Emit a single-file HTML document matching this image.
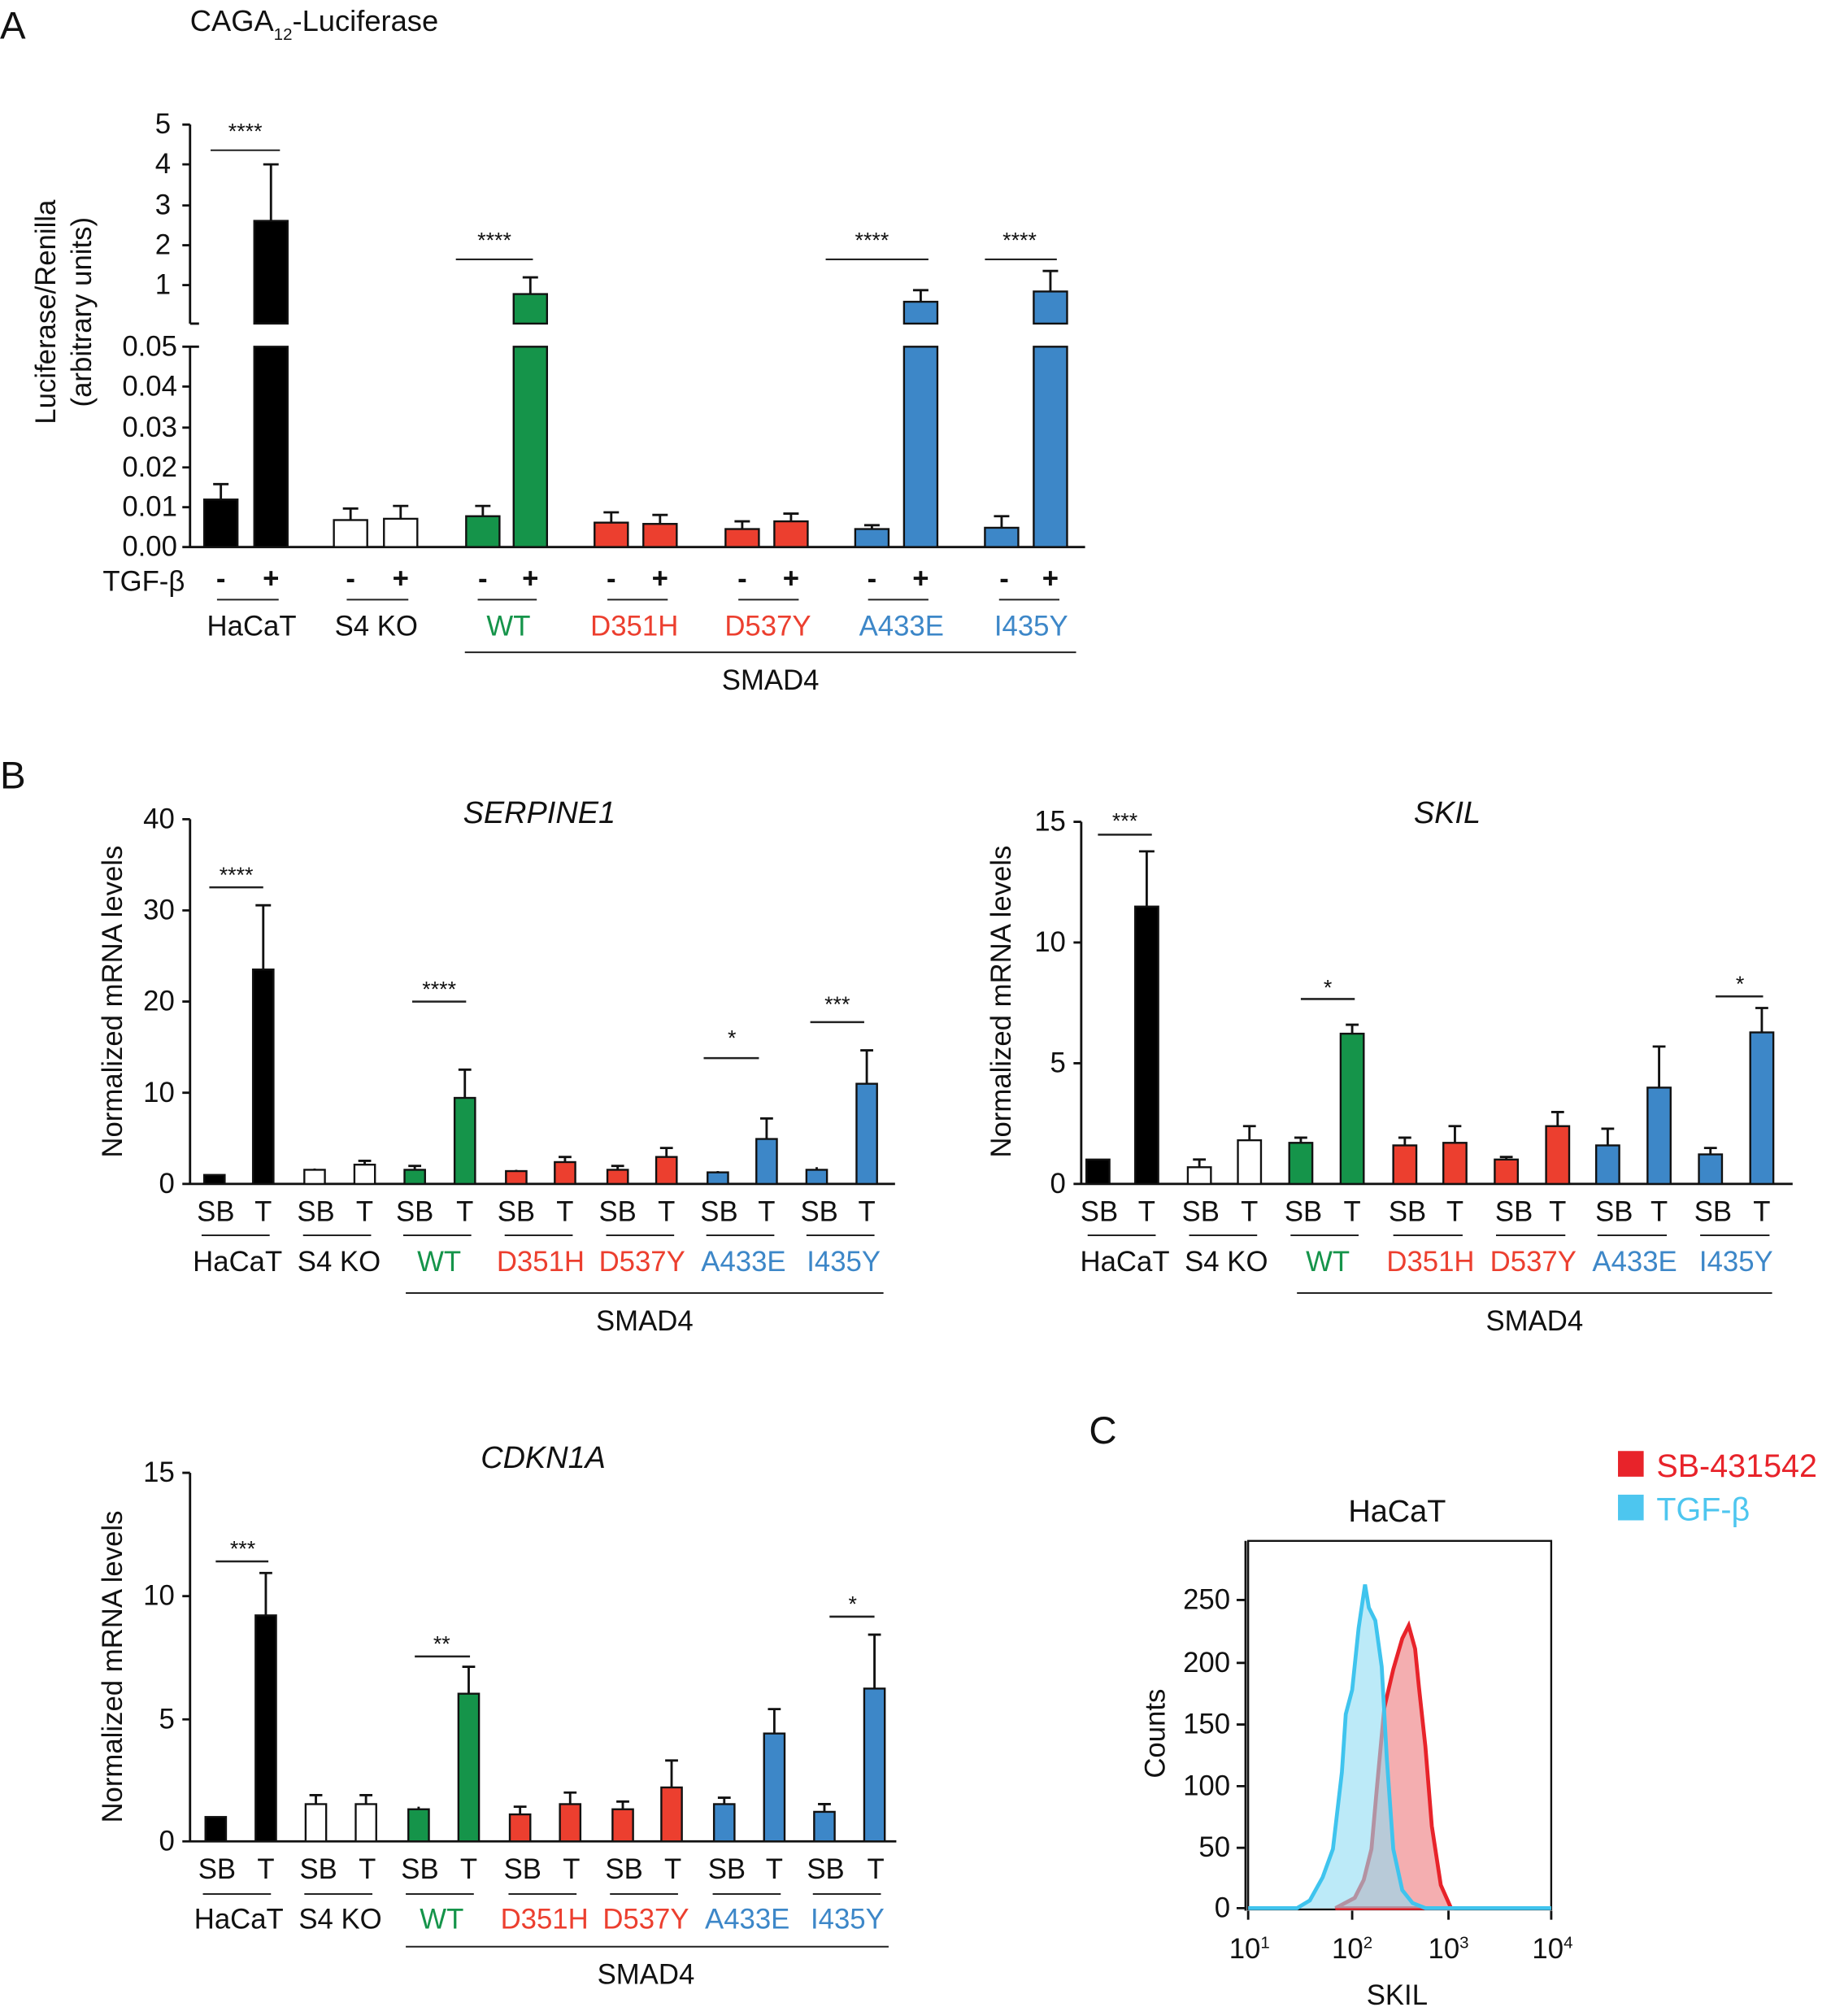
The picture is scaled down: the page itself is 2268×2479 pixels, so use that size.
<!DOCTYPE html>
<html><head><meta charset="utf-8"><style>
html,body{margin:0;padding:0;background:#fff}
svg{display:block}
text{font-family:"Liberation Sans",Arial,sans-serif;fill:#111}
</style></head><body>
<svg width="2268" height="2479" viewBox="0 0 1436 1570" preserveAspectRatio="none" xmlns="http://www.w3.org/2000/svg">
<defs><style>.g{fill:#15944a}.r{fill:#ec3f2f}.b{fill:#3d87c8}.k{fill:#000}.w{fill:#fff}
.bar{stroke:#111;stroke-width:1.5}.e{stroke:#111;stroke-width:1.8;fill:none}.ln{stroke:#222;stroke-width:1.3}
.t{font-size:22px}.s{font-size:17px}.cg{fill:#15944a}.cr{fill:#ec3f2f}.cb{fill:#3d87c8}</style></defs>

<!-- ===== Panel A ===== -->
<text x="0" y="30" style="font-size:30px">A</text>
<text x="148" y="24" style="font-size:23px">CAGA<tspan font-size="13" dy="7">12</tspan><tspan dy="-7">-Luciferase</tspan></text>
<g class="t" text-anchor="end">
<text x="133" y="104">5</text><text x="133" y="135">4</text><text x="133" y="167">3</text><text x="133" y="198">2</text><text x="133" y="229">1</text>
<text x="138" y="277">0.05</text><text x="138" y="308">0.04</text><text x="138" y="340">0.03</text><text x="138" y="371">0.02</text><text x="138" y="402">0.01</text><text x="138" y="433">0.00</text>
</g>
<g class="e"><path d="M148 97V252M148 270V426M142 97H148M142 128H148M142 160H148M142 191H148M142 222H148M148 252H155M148 270H155M142 270H148M142 301H148M142 333H148M142 364H148M142 395H148M142 426H148M148 426H845"/></g>
<text transform="translate(43,243) rotate(-90)" text-anchor="middle" style="font-size:22px">Luciferase/Renilla</text>
<text transform="translate(71,243) rotate(-90)" text-anchor="middle" style="font-size:22px">(arbitrary units)</text>
<g class="bar">
<rect class="k" x="159" y="389" width="26" height="37"/>
<rect class="k" x="198" y="172" width="26" height="80"/><rect class="k" x="198" y="270" width="26" height="156"/>
<rect class="w" x="260" y="405" width="26" height="21"/><rect class="w" x="299" y="404" width="26" height="22"/>
<rect class="g" x="363" y="402" width="26" height="24"/>
<rect class="g" x="400" y="229" width="26" height="23"/><rect class="g" x="400" y="270" width="26" height="156"/>
<rect class="r" x="463" y="407" width="26" height="19"/><rect class="r" x="501" y="408" width="26" height="18"/>
<rect class="r" x="565" y="412" width="26" height="14"/><rect class="r" x="603" y="406" width="26" height="20"/>
<rect class="b" x="666" y="412" width="26" height="14"/>
<rect class="b" x="704" y="235" width="26" height="17"/><rect class="b" x="704" y="270" width="26" height="156"/>
<rect class="b" x="767" y="411" width="26" height="15"/>
<rect class="b" x="805" y="227" width="26" height="25"/><rect class="b" x="805" y="270" width="26" height="156"/>
</g>
<path class="e" d="M172 389V377M166 377H178M211 172V128M205 128H217M273 405V396M267 396H279M312 404V394M306 394H318M376 402V394M370 394H382M413 229V216M407 216H419M476 407V399M470 399H482M514 408V401M508 401H520M578 412V406M572 406H584M616 406V400M610 400H622M679 412V409M673 409H685M717 235V226M711 226H723M780 411V402M774 402H786M818 227V211M812 211H824"/>
<g class="ln"><path d="M164 117H218M355 202H415M643 202H723M767 202H823"/></g>
<g class="s" text-anchor="middle"><text x="191" y="108">****</text><text x="385" y="193">****</text><text x="679" y="193">****</text><text x="794" y="193">****</text></g>
<text x="80" y="460" class="t">TGF-β</text>
<g class="t" text-anchor="middle" style="font-weight:bold">
<text x="172" y="458">-</text><text x="211" y="458">+</text><text x="273" y="458">-</text><text x="312" y="458">+</text><text x="376" y="458">-</text><text x="413" y="458">+</text><text x="476" y="458">-</text><text x="514" y="458">+</text><text x="578" y="458">-</text><text x="616" y="458">+</text><text x="679" y="458">-</text><text x="717" y="458">+</text><text x="782" y="458">-</text><text x="818" y="458">+</text>
</g>
<g class="ln"><path d="M169 467H217M270 467H318M372 467H418M473 467H520M575 467H622M676 467H723M778 467H825M362 508H838"/></g>
<g class="t" text-anchor="middle">
<text x="196" y="495">HaCaT</text><text x="293" y="495">S4 KO</text><text x="396" y="495" class="cg">WT</text><text x="494" y="495" class="cr">D351H</text><text x="598" y="495" class="cr">D537Y</text><text x="702" y="495" class="cb">A433E</text><text x="803" y="495" class="cb">I435Y</text>
<text x="600" y="537">SMAD4</text></g>

<!-- ===== Panel B: SERPINE1 ===== -->
<text x="0" y="614" style="font-size:30px">B</text>
<text x="420" y="641" text-anchor="middle" style="font-size:24px;font-style:italic">SERPINE1</text>
<g class="t" text-anchor="end"><text x="136" y="645">40</text><text x="136" y="716">30</text><text x="136" y="787">20</text><text x="136" y="858">10</text><text x="136" y="929">0</text></g>
<path class="e" d="M148 638V922M142 638H148M142 709H148M142 780H148M142 851H148M142 922H697"/>
<text transform="translate(95,780) rotate(-90)" text-anchor="middle" style="font-size:22px">Normalized mRNA levels</text>
<g class="bar">
<rect class="k" x="159" y="915" width="16" height="7"/><rect class="k" x="197" y="755" width="16" height="167"/>
<rect class="w" x="237" y="911" width="16" height="11"/><rect class="w" x="276" y="907" width="16" height="15"/>
<rect class="g" x="315" y="911" width="16" height="11"/><rect class="g" x="354" y="855" width="16" height="67"/>
<rect class="r" x="394" y="912" width="16" height="10"/><rect class="r" x="432" y="905" width="16" height="17"/>
<rect class="r" x="473" y="911" width="16" height="11"/><rect class="r" x="511" y="901" width="16" height="21"/>
<rect class="b" x="551" y="913" width="16" height="9"/><rect class="b" x="589" y="887" width="16" height="35"/>
<rect class="b" x="628" y="911" width="16" height="11"/><rect class="b" x="667" y="844" width="16" height="78"/>
</g>
<path class="e" d="M205 755V705M199 705H211M245 911V910M284 907V904M279 904H289M323 911V908M318 908H328M362 855V833M357 833H367M402 912V911M440 905V901M435 901H445M481 911V908M476 908H486M519 901V894M514 894H524M559 913V912M597 887V871M592 871H602M636 911V909M675 844V818M670 818H680"/>
<g class="ln" style="stroke-width:1.6"><path d="M163 691H205M321 780H363M548 824H591M631 796H673"/></g>
<g class="s" text-anchor="middle"><text x="184" y="687">****</text><text x="342" y="776">****</text><text x="570" y="814">*</text><text x="652" y="788">***</text></g>
<g class="t" text-anchor="middle">
<text x="168" y="951">SB</text><text x="205" y="951">T</text><text x="246" y="951">SB</text><text x="284" y="951">T</text><text x="323" y="951">SB</text><text x="362" y="951">T</text><text x="402" y="951">SB</text><text x="440" y="951">T</text><text x="481" y="951">SB</text><text x="519" y="951">T</text><text x="560" y="951">SB</text><text x="597" y="951">T</text><text x="638" y="951">SB</text><text x="675" y="951">T</text>
<text x="185" y="990">HaCaT</text><text x="264" y="990">S4 KO</text><text x="342" y="990" class="cg">WT</text><text x="421" y="990" class="cr">D351H</text><text x="500" y="990" class="cr">D537Y</text><text x="579" y="990" class="cb">A433E</text><text x="657" y="990" class="cb">I435Y</text>
<text x="502" y="1036">SMAD4</text></g>
<g class="ln"><path d="M157 962H210M236 962H289M314 962H367M393 962H446M472 962H525M550 962H603M628 962H681M316 1007H688"/></g>

<!-- ===== SKIL ===== -->
<text x="1127" y="641" text-anchor="middle" style="font-size:24px;font-style:italic">SKIL</text>
<g class="t" text-anchor="end"><text x="830" y="647">15</text><text x="830" y="741">10</text><text x="830" y="835">5</text><text x="830" y="929">0</text></g>
<path class="e" d="M842 640V922M836 640H842M836 734H842M836 828H842M836 922H1396"/>
<text transform="translate(787,780) rotate(-90)" text-anchor="middle" style="font-size:22px">Normalized mRNA levels</text>
<g class="bar">
<rect class="k" x="846" y="903" width="18" height="19"/><rect class="k" x="884" y="706" width="18" height="216"/>
<rect class="w" x="925" y="909" width="18" height="13"/><rect class="w" x="964" y="888" width="18" height="34"/>
<rect class="g" x="1004" y="890" width="18" height="32"/><rect class="g" x="1044" y="805" width="18" height="117"/>
<rect class="r" x="1085" y="892" width="18" height="30"/><rect class="r" x="1124" y="890" width="18" height="32"/>
<rect class="r" x="1164" y="903" width="18" height="19"/><rect class="r" x="1204" y="877" width="18" height="45"/>
<rect class="b" x="1243" y="892" width="18" height="30"/><rect class="b" x="1283" y="847" width="18" height="75"/>
<rect class="b" x="1323" y="899" width="18" height="23"/><rect class="b" x="1363" y="804" width="18" height="118"/>
</g>
<path class="e" d="M893 706V663M887 663H899M934 909V903M929 903H939M973 888V877M968 877H978M1013 890V886M1008 886H1018M1053 805V798M1048 798H1058M1094 892V886M1089 886H1099M1133 890V877M1128 877H1138M1173 903V901M1168 901H1178M1213 877V866M1208 866H1218M1252 892V879M1247 879H1257M1292 847V815M1287 815H1297M1332 899V894M1327 894H1337M1372 804V785M1367 785H1377"/>
<g class="ln" style="stroke-width:1.6"><path d="M855 650H897M1013 778H1055M1336 776H1373"/></g>
<g class="s" text-anchor="middle"><text x="876" y="645">***</text><text x="1034" y="775">*</text><text x="1355" y="772">*</text></g>
<g class="t" text-anchor="middle">
<text x="856" y="951">SB</text><text x="893" y="951">T</text><text x="935" y="951">SB</text><text x="973" y="951">T</text><text x="1015" y="951">SB</text><text x="1053" y="951">T</text><text x="1096" y="951">SB</text><text x="1133" y="951">T</text><text x="1179" y="951">SB</text><text x="1213" y="951">T</text><text x="1257" y="951">SB</text><text x="1292" y="951">T</text><text x="1334" y="951">SB</text><text x="1372" y="951">T</text>
<text x="876" y="990">HaCaT</text><text x="955" y="990">S4 KO</text><text x="1034" y="990" class="cg">WT</text><text x="1114" y="990" class="cr">D351H</text><text x="1194" y="990" class="cr">D537Y</text><text x="1273" y="990" class="cb">A433E</text><text x="1352" y="990" class="cb">I435Y</text>
<text x="1195" y="1036">SMAD4</text></g>
<g class="ln"><path d="M847 962H900M926 962H979M1005 962H1058M1085 962H1139M1165 962H1219M1244 962H1298M1324 962H1378M1010 1007H1380"/></g>

<!-- ===== CDKN1A ===== -->
<text x="423" y="1143" text-anchor="middle" style="font-size:24px;font-style:italic">CDKN1A</text>
<g class="t" text-anchor="end"><text x="136" y="1154">15</text><text x="136" y="1250">10</text><text x="136" y="1346">5</text><text x="136" y="1441">0</text></g>
<path class="e" d="M148 1147V1434M142 1147H148M142 1243H148M142 1339H148M142 1434H698"/>
<text transform="translate(95,1298) rotate(-90)" text-anchor="middle" style="font-size:22px">Normalized mRNA levels</text>
<g class="bar">
<rect class="k" x="160" y="1415" width="16" height="19"/><rect class="k" x="199" y="1258" width="16" height="176"/>
<rect class="w" x="238" y="1405" width="16" height="29"/><rect class="w" x="277" y="1405" width="16" height="29"/>
<rect class="g" x="318" y="1409" width="16" height="25"/><rect class="g" x="357" y="1319" width="16" height="115"/>
<rect class="r" x="397" y="1413" width="16" height="21"/><rect class="r" x="436" y="1405" width="16" height="29"/>
<rect class="r" x="477" y="1409" width="16" height="25"/><rect class="r" x="515" y="1392" width="16" height="42"/>
<rect class="b" x="556" y="1405" width="16" height="29"/><rect class="b" x="595" y="1350" width="16" height="84"/>
<rect class="b" x="634" y="1411" width="16" height="23"/><rect class="b" x="673" y="1315" width="16" height="119"/>
</g>
<path class="e" d="M207 1258V1225M202 1225H212M246 1405V1398M241 1398H251M285 1405V1398M280 1398H290M326 1409V1407M365 1319V1298M360 1298H370M405 1413V1407M400 1407H410M444 1405V1396M439 1396H449M485 1409V1403M480 1403H490M523 1392V1371M518 1371H528M564 1405V1400M559 1400H569M603 1350V1331M598 1331H608M642 1411V1405M637 1405H647M681 1315V1273M676 1273H686"/>
<g class="ln" style="stroke-width:1.6"><path d="M168 1216H209M323 1290H366M646 1259H681"/></g>
<g class="s" text-anchor="middle"><text x="189" y="1212">***</text><text x="344" y="1286">**</text><text x="664" y="1255">*</text></g>
<g class="t" text-anchor="middle">
<text x="169" y="1463">SB</text><text x="207" y="1463">T</text><text x="248" y="1463">SB</text><text x="286" y="1463">T</text><text x="327" y="1463">SB</text><text x="365" y="1463">T</text><text x="407" y="1463">SB</text><text x="445" y="1463">T</text><text x="486" y="1463">SB</text><text x="524" y="1463">T</text><text x="566" y="1463">SB</text><text x="603" y="1463">T</text><text x="643" y="1463">SB</text><text x="682" y="1463">T</text>
<text x="186" y="1502">HaCaT</text><text x="265" y="1502">S4 KO</text><text x="344" y="1502" class="cg">WT</text><text x="424" y="1502" class="cr">D351H</text><text x="503" y="1502" class="cr">D537Y</text><text x="582" y="1502" class="cb">A433E</text><text x="660" y="1502" class="cb">I435Y</text>
<text x="503" y="1545">SMAD4</text></g>
<g class="ln"><path d="M158 1475H211M237 1475H290M316 1475H369M396 1475H449M475 1475H528M555 1475H608M633 1475H686M316 1516H692"/></g>

<!-- ===== Panel C ===== -->
<text x="848" y="1124" style="font-size:30px">C</text>
<rect x="1260" y="1130" width="20" height="20" fill="#e8232a"/>
<text x="1290" y="1150" style="font-size:25px;fill:#e8232a">SB-431542</text>
<rect x="1260" y="1164" width="20" height="20" fill="#4dc6ef"/>
<text x="1290" y="1184" style="font-size:25px;fill:#4dc6ef">TGF-β</text>
<text x="1088" y="1185" text-anchor="middle" style="font-size:24px">HaCaT</text>
<rect x="972" y="1200" width="236" height="287" fill="none" stroke="#111" stroke-width="1.5"/>
<path d="M1040 1486L1055 1478L1062 1464L1068 1440L1072 1395L1078 1330L1085 1300L1092 1276L1097 1266L1102 1284L1105 1314L1110 1360L1115 1422L1122 1468L1130 1486Z" fill="#f08c8f" fill-opacity="0.7" stroke="#e8232a" stroke-width="3"/>
<path d="M972 1486L1010 1486L1020 1480L1030 1462L1038 1440L1045 1380L1048 1335L1053 1316L1058 1268L1063 1234L1066 1252L1071 1262L1076 1298L1080 1370L1085 1440L1092 1472L1100 1482L1110 1486L1208 1486" fill="#8fdcf4" fill-opacity="0.6" stroke="#3fc4ee" stroke-width="3"/>
<path class="e" d="M970 1200V1488M963 1246H970M963 1295H970M963 1343H970M963 1391H970M963 1439H970M963 1486H970M972 1488V1495M1053 1488V1495M1128 1488V1495M1208 1488V1495"/>
<g class="t" text-anchor="end"><text x="958" y="1253">250</text><text x="958" y="1302">200</text><text x="958" y="1350">150</text><text x="958" y="1398">100</text><text x="958" y="1446">50</text><text x="958" y="1493">0</text></g>
<g class="t" text-anchor="middle"><text x="973" y="1525">10<tspan font-size="13" dy="-8">1</tspan></text><text x="1053" y="1525">10<tspan font-size="13" dy="-8">2</tspan></text><text x="1128" y="1525">10<tspan font-size="13" dy="-8">3</tspan></text><text x="1209" y="1525">10<tspan font-size="13" dy="-8">4</tspan></text></g>
<text transform="translate(907,1350) rotate(-90)" text-anchor="middle" style="font-size:22px">Counts</text>
<text x="1088" y="1561" text-anchor="middle" style="font-size:22px">SKIL</text>
</svg>
</body></html>
